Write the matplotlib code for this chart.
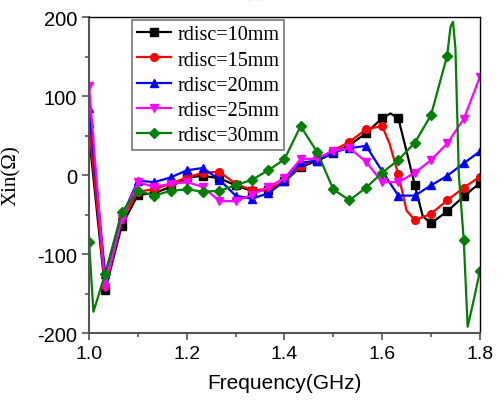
import matplotlib
matplotlib.use("Agg")
import matplotlib.pyplot as plt
from matplotlib.ticker import MultipleLocator

plt.rcParams["font.family"] = ["Liberation Sans", "DejaVu Sans"]
plt.rcParams["axes.unicode_minus"] = False

# marker grid: 1.0 .. 1.8 GHz, step 1/30
f_mk = [1.0, 1.033, 1.067, 1.1, 1.133, 1.167, 1.2, 1.233, 1.267, 1.3, 1.333, 1.367, 1.4,
        1.433, 1.467, 1.5, 1.533, 1.567, 1.6, 1.633, 1.667, 1.7, 1.733, 1.767, 1.8]

# rdisc=10mm
f10 = f_mk[:19] + [1.617, 1.633, 1.646, 1.667, 1.683, 1.7, 1.733, 1.767, 1.8]
x10 = [50, -146, -64, -25, -23, -15, -3, -1, -4, -13, -20, -19, -8, 10, 18, 28, 38, 53, 72,
       78, 72, 40, -13, -52, -61, -46, -27, -10]
# rdisc=15mm
f15 = f_mk[:19] + [1.615, 1.633, 1.65, 1.667, 1.7, 1.733, 1.767, 1.8]
x15 = [62, -140, -56, -21, -18, -11, -3, 3, 4, -11, -19, -18, -8, 12, 20, 31, 42, 58, 62,
       40, 1, -45, -57, -49, -32, -16, -2]
# rdisc=20mm
f20 = f_mk
x20 = [85, -125, -53, -7, -9, -3, 6, 9, -6, -26, -30, -23, -8, 16, 18, 29, 34, 37, 5,
       -26, -26, -13, -1, 15, 30]
# rdisc=25mm
f25 = f_mk
x25 = [113, -142, -55, -9, -15, -11, -9, -15, -33, -33, -25, -15, -4, 20, 21, 31, 34, 17,
       -9, -9, 3, 19, 40, 71, 124]
# rdisc=30mm
f30 = [1.0, 1.009, 1.033, 1.067, 1.1, 1.133, 1.167, 1.2, 1.233, 1.267, 1.3, 1.333, 1.367,
       1.4, 1.433, 1.467, 1.5, 1.533, 1.567, 1.6, 1.633, 1.667, 1.7, 1.733, 1.74, 1.745,
       1.75, 1.757, 1.767, 1.775, 1.785, 1.8]
x30 = [-85, -173, -125, -47, -20, -26, -20, -18, -21, -20, -13, -6, 6, 20, 62, 29, -18,
       -32, -16, 3, 19, 41, 76, 151, 188, 194, 160, 0, -82, -192, -165, -122]

labels = ["rdisc=10mm", "rdisc=15mm", "rdisc=20mm", "rdisc=25mm", "rdisc=30mm"]
colors = ["black", "red", "blue", "magenta", "green"]
markers = ["s", "o", "^", "v", "D"]

fig = plt.figure(figsize=(5.03, 4.02), dpi=100)
ax = fig.add_axes([0.177, 0.169, 0.777, 0.786])

series = [(f10, x10), (f15, x15), (f20, x20), (f25, x25), (f30, x30)]
for (f, x), lab, c, m in zip(series, labels, colors, markers):
    idx = [i for i, v in enumerate(f) if v in f_mk]
    ax.plot(f, x, color=c, lw=1.6, marker=m, ms=5.5 if m != "D" else 5,
            markevery=idx, label=lab)

ax.set_xlim(1.0, 1.8)
ax.set_ylim(-200, 200)
ax.xaxis.set_major_locator(MultipleLocator(0.2))
ax.xaxis.set_minor_locator(MultipleLocator(0.1))
ax.yaxis.set_major_locator(MultipleLocator(100))
ax.yaxis.set_minor_locator(MultipleLocator(50))
ax.xaxis.set_major_formatter(plt.FuncFormatter(lambda v, p: "%.1f" % v))
ax.tick_params(which="both", direction="out", top=False, right=False,
               labelsize=14, color="#555555", width=1.2)
ax.tick_params(axis="y", labelsize=14.5)
ax.tick_params(which="major", length=5)
ax.tick_params(which="minor", length=3)
for s in ["left", "bottom"]:
    ax.spines[s].set_color("#555555")
    ax.spines[s].set_linewidth(1.5)
for s in ["top", "right"]:
    ax.spines[s].set_color("black")
    ax.spines[s].set_linewidth(1.0)

ax.set_xlabel("Frequency(GHz)", fontsize=15, labelpad=8)
ax.set_ylabel("Xin(Ω)", fontsize=15, family=["Liberation Serif", "DejaVu Serif"])
ax.yaxis.set_label_coords(-0.175, 0.5)

leg = ax.legend(loc="upper left", bbox_to_anchor=(0.11, 0.99),
                prop={"family": "Liberation Serif", "size": 14.5},
                frameon=True, fancybox=False, framealpha=1, edgecolor="#777777",
                handlelength=1.7, handletextpad=0.3, borderpad=0.25,
                labelspacing=0.3, borderaxespad=0)
leg.get_frame().set_linewidth(1.2)

fig.text(0.507, 1.008, "(b)", ha="center", va="baseline", fontsize=15,
         family="Liberation Serif")

fig.savefig("out.png", dpi=100)
